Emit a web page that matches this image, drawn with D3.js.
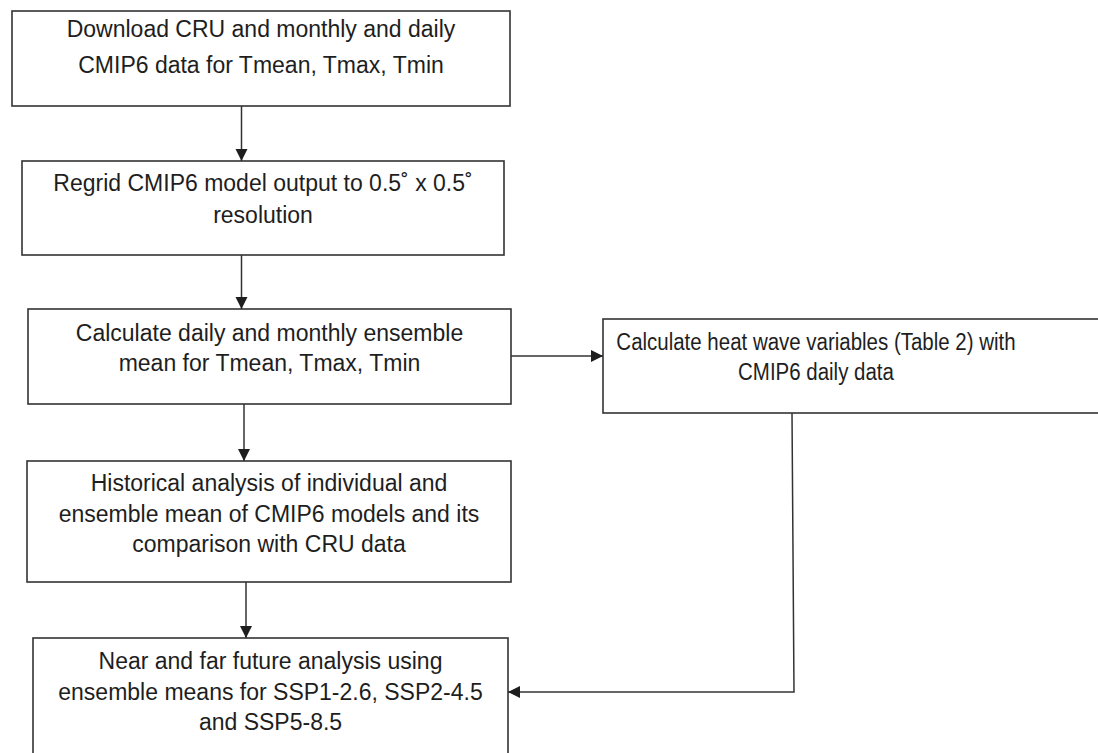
<!DOCTYPE html>
<html>
<head>
<meta charset="utf-8">
<script src="https://cdn.jsdelivr.net/npm/d3@7"></script>
<style>
  html, body { margin: 0; padding: 0; background: #fff; }
  svg { display: block; }
  text { font-family: "Liberation Sans", Arial, Helvetica, sans-serif; fill: #1e1e1e; }
</style>
</head>
<body>
<svg id="chart" width="1098" height="753"></svg>
<script>
// ---- content (text of each step) ----
const stepIds = ["download", "regrid", "ensemble", "historical", "future", "heatwave"];
const stepLabels = [
  ["Download CRU and monthly and daily", "CMIP6 data for Tmean, Tmax, Tmin"],
  ["Regrid CMIP6 model output to 0.5\u02da x 0.5\u02da", "resolution"],
  ["Calculate daily and monthly ensemble", "mean for Tmean, Tmax, Tmin"],
  ["Historical analysis of individual and", "ensemble mean of CMIP6 models and its", "comparison with CRU data"],
  ["Near and far future analysis using", "ensemble means for SSP1-2.6, SSP2-4.5", "and SSP5-8.5"],
  ["Calculate heat wave variables (Table 2) with", "CMIP6 daily data"]
];
const linkFrom = ["download", "regrid", "ensemble", "historical", "ensemble", "heatwave"];
const linkTo   = ["regrid", "ensemble", "historical", "future", "heatwave", "future"];

// ---- layout (positions, kept apart from content) ----
const boxLayout = {
  download:   {x0: 12,  y0: 11,  x1: 510,  y1: 106, cx: 261,   sx: 1,    base: [36.5, 72.5]},
  regrid:     {x0: 22,  y0: 161, x1: 504,  y1: 255, cx: 263,   sx: 1,    base: [190.5, 222.5]},
  ensemble:   {x0: 28,  y0: 309, x1: 511,  y1: 404, cx: 269.5, sx: 1,    base: [340.5, 371]},
  historical: {x0: 27,  y0: 461, x1: 511,  y1: 582, cx: 269,   sx: 1,    base: [490.5, 521.5, 552]},
  future:     {x0: 33,  y0: 638, x1: 508,  y1: 770, cx: 270.5, sx: 1,    base: [668.5, 699.5, 730]},
  heatwave:   {x0: 603, y0: 319, x1: 1110, y1: 413, cx: 816,   sx: 0.89, base: [350.5, 380.5]}
};
const linkLayout = [
  [[241.5, 106], [241.5, 161]],
  [[241.5, 255], [241.5, 309]],
  [[244, 404], [244, 461]],
  [[246, 582], [246, 638]],
  [[511, 356], [603, 356]],
  [[792, 413], [794, 692], [508, 692]]
];

const svg = d3.select("#chart");
const stroke = "#333";
const fontSize = 23;

const nodes = stepIds.map((id, i) => ({id, lines: stepLabels[i], ...boxLayout[id]}));
const g = svg.selectAll("g.node").data(nodes).join("g").attr("class", "node");

g.append("rect")
  .attr("x", d => d.x0).attr("y", d => d.y0)
  .attr("width", d => d.x1 - d.x0).attr("height", d => d.y1 - d.y0)
  .attr("fill", "#fff").attr("stroke", stroke).attr("stroke-width", 1.6);

g.each(function(d) {
  d3.select(this).append("g")
    .attr("transform", `translate(${d.cx},0) scale(${d.sx},1)`)
    .selectAll("text").data(d.lines).join("text")
    .attr("x", 0)
    .attr("y", (t, i) => d.base[i])
    .attr("text-anchor", "middle")
    .attr("font-size", fontSize)
    .text(t => t);
});

const links = linkFrom.map((f, i) => ({from: f, to: linkTo[i], pts: linkLayout[i]}));
const line = d3.line();
svg.selectAll("path.link").data(links).join("path")
  .attr("class", "link")
  .attr("d", d => line(d.pts))
  .attr("fill", "none").attr("stroke", stroke).attr("stroke-width", 1.5);

// arrowheads at link ends
const headLen = 12, headHalf = 6;
svg.selectAll("path.head").data(links).join("path")
  .attr("class", "head")
  .attr("d", d => {
    const p = d.pts[d.pts.length - 1], q = d.pts[d.pts.length - 2];
    const dx = p[0] - q[0], dy = p[1] - q[1];
    const len = Math.hypot(dx, dy), ux = dx / len, uy = dy / len;
    const bx = p[0] - ux * headLen, by = p[1] - uy * headLen;
    return `M${p[0]},${p[1]}L${bx - uy * headHalf},${by + ux * headHalf}L${bx + uy * headHalf},${by - ux * headHalf}Z`;
  })
  .attr("fill", "#1e1e1e");
</script>
</body>
</html>
